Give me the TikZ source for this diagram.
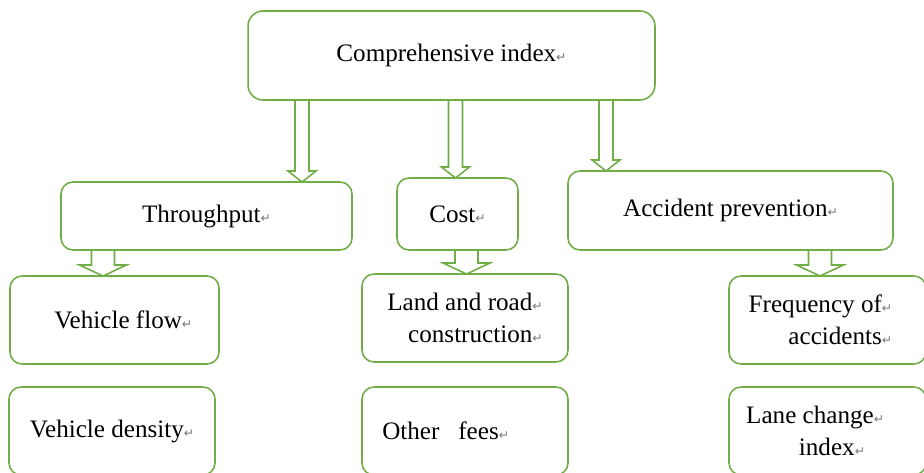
\documentclass[tikz,border=0pt]{standalone}
\usepackage{fontspec}
\setmainfont{Liberation Serif}
\newfontfamily\markfont{DejaVu Sans}
\usepackage{tikz}
\usetikzlibrary{calc,positioning}
\usepackage{xcolor}
\definecolor{boxgreen}{RGB}{112,173,71}
\definecolor{markgray}{RGB}{120,120,120}

% paragraph mark after each line
\newcommand{\pmark}{{\markfont\fontsize{7}{7}\selectfont\textcolor{markgray}{↵}}}

% hollow block arrow: top node, bottom node, x, shaft half width, head half width
\newcommand{\hollowarrow}[5]{%
    \path (#3,0) coordinate (ax);
    \coordinate (atop) at (#1.south -| ax);
    \coordinate (atip) at (#2.north -| ax);
    \draw[arrowline] ($(atop)+(-#4,0)$) -- ($(atip)+(-#4,-11)$) -- ($(atip)+(-#5,-11)$)
        -- (atip) -- ($(atip)+(#5,-11)$) -- ($(atip)+(#4,-11)$) -- ($(atop)+(#4,0)$);
}

\begin{document}
\begin{tikzpicture}[x=0.02cm, y=-0.02cm,
    box/.style={draw=boxgreen, line width=0.9pt, rounded corners=0.24cm, inner sep=0pt, outer sep=0pt,
        font=\fontsize{14.3}{18}\selectfont, align=center},
    arrowline/.style={draw=boxgreen, line width=0.9pt, line join=miter}]

\useasboundingbox (0,0) rectangle (924,473);

% Top level
\node[box, rounded corners=0.3cm, minimum width=8.14cm, minimum height=1.78cm] (ci) at (451.5,55.5) {Comprehensive index\pmark};

% Second level
\node[box, minimum width=5.82cm, minimum height=1.36cm] (thr) at (206.5,216) {Throughput\pmark};
\node[box, minimum width=2.42cm, minimum height=1.44cm] (cost) at (457.5,214) {Cost\pmark};
\node[box, minimum width=6.5cm, minimum height=1.58cm] (acc) at (730.5,210.5) {Accident prevention\pmark};

% Third level
\node[box, minimum width=4.18cm, minimum height=1.76cm] (vflow) at (114.5,320) {\hspace*{10pt}Vehicle flow\pmark};
\node[box, minimum width=4.12cm, minimum height=1.76cm, align=right] (land) at (465,318) {Land and road\pmark\\construction\pmark};
\node[box, minimum width=3.94cm, minimum height=1.76cm, align=right] (freq) at (827.5,320) {Frequency of\pmark\hspace*{8pt}\\accidents\pmark\hspace*{8pt}};

% Fourth level
\node[box, minimum width=4.12cm, minimum height=1.76cm] (vdens) at (112,431) {Vehicle density\pmark};
\node[box, minimum width=4.12cm, minimum height=1.76cm] (other) at (465,431) {Other\ \ \ fees\pmark\hspace*{22pt}};
\node[box, minimum width=3.94cm, minimum height=1.76cm, align=left] (lane) at (827.5,431) {Lane change\pmark\hspace*{14pt}\\\hspace*{30pt}index\pmark};

% Arrows
\hollowarrow{ci}{thr}{302}{7}{14}
\hollowarrow{ci}{cost}{455.5}{7}{14}
\hollowarrow{ci}{acc}{606}{7}{14}
\hollowarrow{thr}{vflow}{103}{11.5}{23.5}
\hollowarrow{cost}{land}{466.5}{11.5}{23.5}
\hollowarrow{acc}{freq}{820}{11.5}{23.5}

\end{tikzpicture}
\end{document}
